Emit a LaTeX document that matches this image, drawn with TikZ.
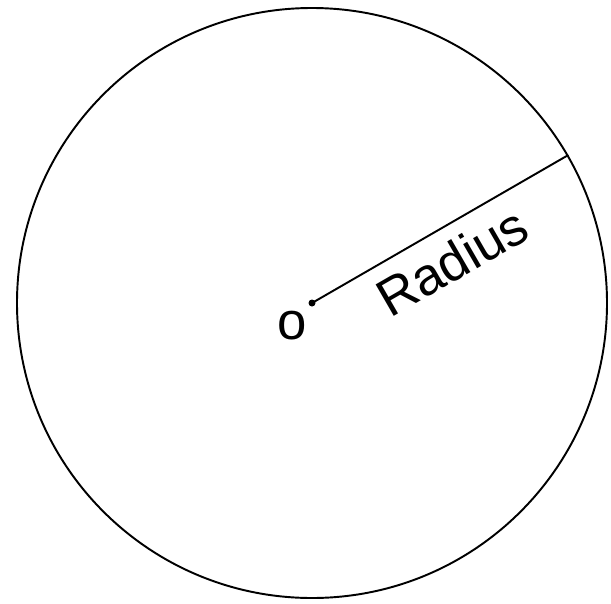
\documentclass[tikz,border=0pt]{standalone}
\usepackage{fontspec}
\setmainfont{Liberation Sans}
\begin{document}
\begin{tikzpicture}[line width=1.1pt]
\useasboundingbox (-6.24,-6.0) rectangle (5.98,6.06);
\node[draw,circle,minimum size=11.8cm,inner sep=0pt] (rim) at (0,0) {};
\node[circle,fill,inner sep=0pt,minimum size=0.14cm] (o) at (0,0) {};
\node[inner sep=0pt] at (-0.4,-0.46) (olab) {\fontsize{30}{31}\selectfont o};
\draw (o.center) -- (rim.30.8) node[sloped,pos=0.48,below=0.16cm] (rlab) {\fontsize{30}{31}\selectfont Radius};
\end{tikzpicture}
\end{document}
